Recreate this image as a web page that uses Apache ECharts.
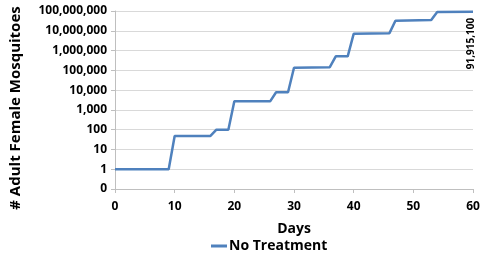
<!DOCTYPE html>
<html>
<head>
<meta charset="utf-8">
<script src="https://cdn.jsdelivr.net/npm/echarts@6/dist/echarts.min.js"></script>
<style>
  html, body { margin: 0; padding: 0; background: #fff; }
  #echart { width: 500px; height: 266px; }
</style>
</head>
<body>
<div id="echart"></div>
<script>
var dom = document.getElementById("echart");
var myChart = echarts.init(dom);

// values
let days = [0, 9, 10, 16, 17, 19, 20, 26, 27, 29, 30, 36, 37, 39, 40, 46, 47, 53, 54, 60];
let mosquitoes = [1, 1, 48, 48, 100, 100, 2700, 2700, 7800, 7800, 135000, 145000, 510000, 510000,
    7000000, 7600000, 32000000, 35000000, 88000000, 91915100];
let seriesName = 'No Treatment';

let fontFam = '"Open Sans", "Liberation Sans", sans-serif';

let points = [];
for (let i = 0; i < days.length; i++) {
    let p = { value: [days[i], mosquitoes[i]] };
    if (i === days.length - 1) {
        p.label = {
            show: true,
            rotate: 90,
            align: 'right',
            verticalAlign: 'middle',
            position: [-2, 6],
            formatter: function (d) { return d.value[1].toLocaleString('en-US'); },
            color: '#000',
            fontSize: 10,
            fontWeight: 'bold',
            fontFamily: fontFam,
            backgroundColor: '#fff'
        };
    }
    points.push(p);
}

var option = {
    animation: false,
    grid: {
        left: 113,
        right: 27,
        top: 11,
        bottom: 77
    },
    legend: {
        left: 206,
        top: 234,
        itemWidth: 16,
        itemHeight: 3,
        itemGap: 4,
        data: [{ name: seriesName, icon: 'rect' }],
        textStyle: {
            fontSize: 14,
            fontWeight: 'bold',
            color: '#000',
            fontFamily: fontFam,
            padding: [0, 0, 0, -3]
        }
    },
    xAxis: {
        type: 'value',
        min: 0,
        max: 60,
        interval: 10,
        name: 'Days',
        nameLocation: 'middle',
        nameGap: 33,
        nameTextStyle: { fontSize: 14, fontWeight: 'bold', color: '#000', fontFamily: fontFam },
        axisLine: { show: true, lineStyle: { color: '#bfbfbf' } },
        axisTick: { show: true, length: 4, lineStyle: { color: '#bfbfbf' } },
        splitLine: { show: false },
        axisLabel: { margin: 12, fontSize: 12, fontWeight: 'bold', color: '#000', fontFamily: fontFam }
    },
    yAxis: {
        type: 'log',
        logBase: 10,
        min: 0.1,
        max: 100000000,
        name: '# Adult Female Mosquitoes',
        nameLocation: 'middle',
        nameGap: 92,
        nameTextStyle: { fontSize: 15, fontWeight: 'bold', color: '#000', fontFamily: fontFam, padding: [0, 0, 0, -16] },
        axisLine: { show: true, lineStyle: { color: '#bfbfbf' } },
        axisTick: { show: true, length: 4, lineStyle: { color: '#bfbfbf' } },
        splitLine: { show: true, lineStyle: { color: '#d9d9d9' } },
        axisLabel: {
            margin: 8,
            fontSize: 12,
            fontWeight: 'bold',
            color: '#000',
            fontFamily: fontFam,
            formatter: function (v) {
                if (v < 1) return '0';
                return Math.round(v).toLocaleString('en-US');
            }
        }
    },
    series: [
        {
            name: seriesName,
            type: 'line',
            showSymbol: true,
            symbol: 'circle',
            symbolSize: 0,
            color: '#4f81bd',
            lineStyle: { width: 2.5, color: '#4f81bd' },
            data: points
        }
    ]
};

if (option && typeof option === 'object') {
    myChart.setOption(option);
}
</script>
</body>
</html>
